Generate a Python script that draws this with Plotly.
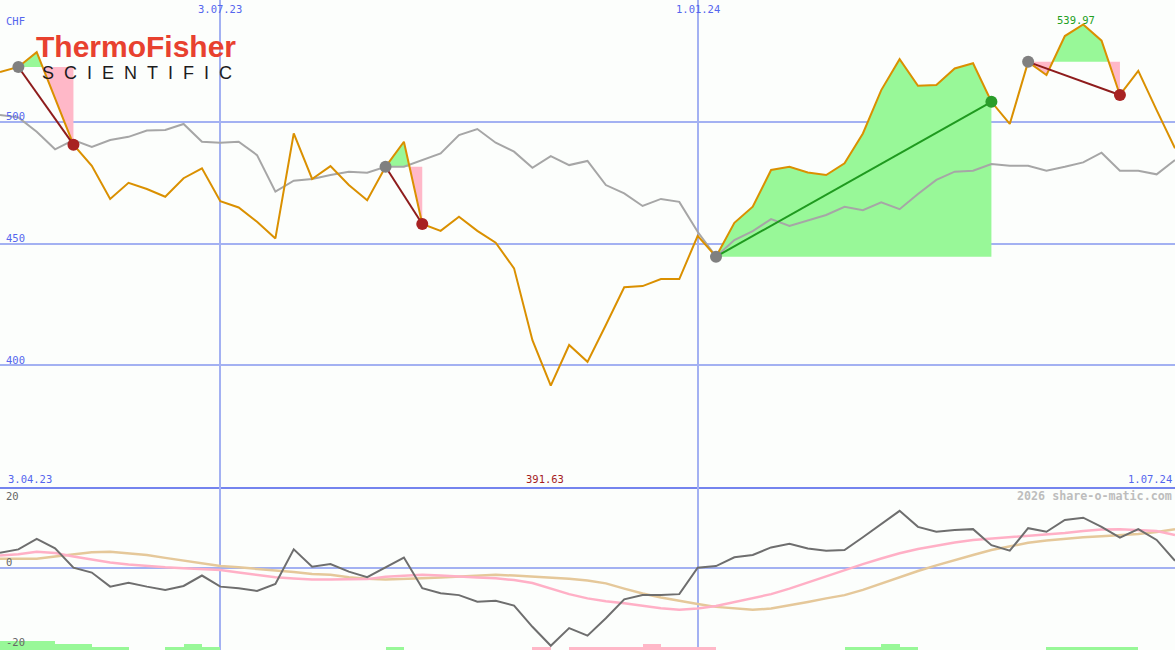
import plotly.graph_objects as go
import pandas as pd

# ---------------- data ----------------
dates = pd.date_range("2023-04-10", periods=65, freq="7D")

price = [520.4, 522.5, 528.6, 509.7, 490.6, 481.9, 468.3, 474.9, 472.4, 469.2,
         476.8, 480.9, 467.4, 464.8, 458.9, 452.1, 495.2, 476.5, 481.8, 474.0,
         467.8, 481.5, 491.8, 458.0, 455.2, 461.0, 455.2, 450.3, 439.8, 410.3,
         391.63, 408.3, 401.4, 416.5, 432.0, 432.5, 435.4, 435.4, 453.1, 444.6,
         458.5, 465.1, 480.2, 481.5, 479.2, 478.1, 482.9, 495.2, 513.0, 525.7,
         514.8, 515.1, 521.9, 524.0, 508.2, 499.1, 524.6, 519.2, 535.2, 539.97,
         533.3, 511.0, 520.9, 504.8, 489.1]

benchmark = [502.8, 501.8, 495.9, 488.7, 492.5, 489.7, 492.5, 493.8, 496.4, 496.6,
             499.1, 491.8, 491.4, 491.8, 486.3, 471.3, 475.8, 476.5, 478.1, 479.5,
             479.1, 481.5, 481.5, 484.3, 487.0, 494.5, 497.0, 491.4, 487.7, 481.1,
             485.9, 482.2, 483.9, 474.0, 470.6, 465.4, 468.3, 467.1, 454.8, 444.6,
             451.4, 455.1, 460.0, 457.2, 459.3, 461.7, 465.1, 463.7, 466.9, 464.1,
             470.3, 476.1, 479.5, 479.9, 482.6, 481.9, 481.9, 479.9, 481.5, 483.3,
             487.3, 479.9, 479.9, 478.4, 484.3]

momentum = [4.6, 5.6, 8.8, 5.9, 0.0, -1.5, -5.8, -4.6, -5.8, -6.8,
            -5.6, -2.4, -5.8, -6.3, -7.1, -5.0, 5.6, 0.3, 1.1, -1.2,
            -2.9, 0.1, 3.1, -6.3, -7.8, -8.4, -10.4, -10.1, -11.6, -18.1,
            -23.9, -18.5, -20.8, -15.5, -9.7, -8.4, -8.4, -8.1, 0.0, 0.5,
            3.2, 3.9, 6.2, 7.3, 5.9, 5.2, 5.4, 9.3, 13.4, 17.4,
            12.5, 11.0, 11.5, 11.8, 6.9, 5.2, 12.1, 11.0, 14.6, 15.3,
            12.5, 9.2, 11.8, 8.5, 2.1]

ma_fast = [3.7, 4.1, 4.9, 4.5, 3.4, 2.4, 1.6, 1.0, 0.5, 0.1,
           -0.2, -0.5, -0.7, -1.5, -2.2, -2.9, -3.3, -3.6, -3.6, -3.6,
           -3.5, -2.8, -2.4, -2.2, -2.4, -2.8, -3.0, -3.2, -3.8, -4.7,
           -6.5, -8.1, -9.4, -10.3, -10.9, -11.7, -12.4, -12.9, -12.5, -11.7,
           -10.5, -9.5, -8.1, -6.4, -4.5, -2.8, -0.9, 1.1, 2.8, 4.4,
           5.7, 6.8, 7.7, 8.5, 8.9, 9.3, 9.6, 10.0, 10.6, 11.2,
           11.7, 11.8, 11.6, 11.2, 10.0]

ma_slow = [2.7, 2.6, 2.7, 3.4, 4.0, 4.7, 4.9, 4.5, 3.9, 3.0,
           2.2, 1.3, 0.5, 0.1, -0.3, -0.7, -1.3, -1.9, -2.2, -2.9,
           -3.4, -3.6, -3.5, -3.2, -3.0, -2.8, -2.5, -2.2, -2.4, -2.7,
           -2.9, -3.4, -3.9, -4.8, -6.4, -7.9, -9.1, -10.2, -11.1, -12.0,
           -12.5, -12.9, -12.5, -11.6, -10.5, -9.4, -8.4, -6.8, -4.8, -2.8,
           -1.0, 0.7, 2.4, 3.9, 5.4, 6.6, 7.6, 8.3, 8.9, 9.3,
           9.6, 9.9, 10.3, 10.9, 11.8]

# signal strength bars at the bottom (+ green, - pink)
signal = [3, 3, 3, 2, 2, 1, 1, 0, 0, 1,
          2, 1, 0, 0, 0, 0, 0, 0, 0, 0,
          0, 1, 0, 0, 0, 0, 0, 0, 0, -1,
          0, -1, -1, -1, -1, -2, -1, -1, -1, 0,
          0, 0, 0, 0, 0, 0, 1, 1, 2, 1,
          0, 0, 0, 0, 0, 0, 0, 1, 1, 1,
          1, 1, 0, 0, 0]

trade_entry = [1, 21, 39, 56]
trade_exit = [4, 23, 54, 61]

y_ticks_main = [400, 450, 500]
x_ticks = ["2023-07-03", "2024-01-01"]
x_tick_text = ["3.07.23", "1.01.24"]
x_start_label = "3.04.23"
x_end_label = "1.07.24"
currency = "CHF"

# ---------------- layout constants ----------------
W, H = 1175, 650
SPLIT = 487  # pixel row of panel separator
dom_split = (H - SPLIT) / H
MAIN_RANGE = [350, 550]
LOW_RANGE = [-25.2, 24.7]
X_RANGE = ["2023-04-10", "2024-07-01"]

BG = "#fcfefc"
GRID = "#a3b1f2"
SEP = "#7484ee"
LBL = "#5566ee"
ORANGE = "#da9000"
GREY = "#a6a6a6"
FILL_G = "#98f898"
FILL_P = "#ffb8c8"

def ypx(p):
    return 1 - p / H

def xpx(p):
    return p / W

fig = go.Figure()

# ---------------- trade fills ----------------
def trade_groups(i0, i1):
    lvl = price[i0]
    pts = [(dates[i0], price[i0], True)]
    for k in range(i0, i1):
        a = price[k] - lvl
        b = price[k + 1] - lvl
        if a * b < 0:
            f = a / (a - b)
            pts.append((dates[k] + (dates[k + 1] - dates[k]) * f, lvl, True))
        pts.append((dates[k + 1], price[k + 1], price[k + 1] == lvl))
    groups, cur = [], [pts[0]]
    for p in pts[1:]:
        cur.append(p)
        if p[2]:
            groups.append(cur)
            cur = [p]
    if len(cur) > 1:
        groups.append(cur)
    return lvl, groups

for i0, i1 in zip(trade_entry, trade_exit):
    lvl, groups = trade_groups(i0, i1)
    for g in groups:
        s = sum(p[1] - lvl for p in g)
        if s == 0:
            continue
        xs = [p[0] for p in g] + [g[-1][0], g[0][0]]
        ys = [p[1] for p in g] + [lvl, lvl]
        fig.add_trace(go.Scatter(x=xs, y=ys, mode="lines", fill="toself",
                                 fillcolor=FILL_G if s > 0 else FILL_P,
                                 line=dict(width=0), hoverinfo="skip",
                                 xaxis="x", yaxis="y"))

# ---------------- main lines ----------------
fig.add_trace(go.Scatter(x=dates, y=benchmark, mode="lines",
                         line=dict(color=GREY, width=2), xaxis="x", yaxis="y"))
fig.add_trace(go.Scatter(x=dates, y=price, mode="lines",
                         line=dict(color=ORANGE, width=2), xaxis="x", yaxis="y"))

for i0, i1 in zip(trade_entry, trade_exit):
    win = price[i1] > price[i0]
    fig.add_trace(go.Scatter(x=[dates[i0], dates[i1]], y=[price[i0], price[i1]],
                             mode="lines",
                             line=dict(color="#1f9a1f" if win else "#8e1c1c", width=2),
                             xaxis="x", yaxis="y"))
    fig.add_trace(go.Scatter(x=[dates[i0]], y=[price[i0]], mode="markers",
                             marker=dict(color="#808080", size=12, line=dict(width=0)),
                             xaxis="x", yaxis="y"))
    fig.add_trace(go.Scatter(x=[dates[i1]], y=[price[i1]], mode="markers",
                             marker=dict(color="#2a9d2a" if win else "#a82222", size=12,
                                         line=dict(width=0)),
                             xaxis="x", yaxis="y"))

# ---------------- lower panel ----------------
px_per_unit = (H - SPLIT) / (LOW_RANGE[1] - LOW_RANGE[0])
bar_unit = 3.0 / px_per_unit
bar_x = [d + pd.Timedelta(days=3.5) for d in dates]
week_ms = 7 * 24 * 3600 * 1000
fig.add_trace(go.Bar(x=bar_x, y=[abs(s) * bar_unit for s in signal],
                     base=LOW_RANGE[0], width=week_ms,
                     marker=dict(color=[FILL_G if s > 0 else FILL_P for s in signal],
                                 line=dict(width=0)),
                     xaxis="x2", yaxis="y2"))
fig.add_trace(go.Scatter(x=dates, y=ma_slow, mode="lines",
                         line=dict(color="#e5c89a", width=2.5), xaxis="x2", yaxis="y2"))
fig.add_trace(go.Scatter(x=dates, y=ma_fast, mode="lines",
                         line=dict(color="#ffb0c6", width=2.5), xaxis="x2", yaxis="y2"))
fig.add_trace(go.Scatter(x=dates, y=momentum, mode="lines",
                         line=dict(color="#6e6e6e", width=2), xaxis="x2", yaxis="y2"))

# ---------------- annotations ----------------
mono = "DejaVu Sans Mono"
ann = []
def lab(text, x, y, color=LBL, xref="paper", yref="paper", xanchor="center",
        yanchor="middle", xshift=0, yshift=0, size=10.5, family=mono, bold=False):
    ann.append(dict(text=("<b>%s</b>" % text) if bold else text, x=x, y=y,
                    xref=xref, yref=yref, xanchor=xanchor, yanchor=yanchor,
                    xshift=xshift, yshift=yshift, showarrow=False,
                    font=dict(family=family, size=size, color=color), borderpad=0))

lab(currency, xpx(5), ypx(21), xanchor="left")
for v in y_ticks_main:
    lab(str(v), xpx(5), v, yref="y", xanchor="left", yshift=5.5)
for d, t in zip(x_ticks, x_tick_text):
    lab(t, d, ypx(9), xref="x")
lab(x_start_label, xpx(7), ypx(479), xanchor="left")
lab(x_end_label, xpx(1173), ypx(479), xanchor="right")
imin = price.index(min(price))
imax = price.index(max(price))
lab("%.2f" % price[imin], dates[imin], ypx(479), xref="x", xshift=-6, color="#a51c1c")
lab("%.2f" % price[imax], dates[imax], price[imax], xref="x", yref="y",
    xshift=-7, yshift=4, color="#22a022")
lab("2026 share-o-matic.com", xpx(1173), ypx(496), xanchor="right",
    color="#bdbdbd", size=11.7, bold=True)
lab("20", xpx(5), ypx(496), xanchor="left", color="#666666")
lab("0", xpx(5), 0, yref="y2", xanchor="left", yshift=6, color="#666666")
lab("-20", xpx(5), ypx(642), xanchor="left", color="#666666")

# logo
lab("ThermoFisher", xpx(35), ypx(47), xanchor="left", color="#e8412f",
    size=30, family="Liberation Sans", bold=True)
lab("&nbsp;&nbsp;".join("SCIENTIFIC"), xpx(41), ypx(72.5), xanchor="left",
    color="#1c1c1c", size=18, family="Liberation Sans")

axis_common = dict(showticklabels=False, ticks="", zeroline=False, fixedrange=True)

fig.update_layout(
    width=W, height=H,
    margin=dict(l=0, r=0, t=0, b=0),
    paper_bgcolor=BG, plot_bgcolor=BG,
    showlegend=False,
    bargap=0,
    annotations=ann,
    xaxis=dict(domain=[0, 1], anchor="y", range=X_RANGE, type="date",
               tickvals=x_ticks, showgrid=True, gridcolor=GRID, gridwidth=2,
               showline=True, linecolor=SEP, linewidth=2, **axis_common),
    yaxis=dict(domain=[dom_split, 1], anchor="x", range=MAIN_RANGE,
               tickvals=y_ticks_main, showgrid=True, gridcolor=GRID, gridwidth=2,
               showline=False, **axis_common),
    xaxis2=dict(domain=[0, 1], anchor="y2", range=X_RANGE, type="date",
                tickvals=x_ticks, showgrid=True, gridcolor=GRID, gridwidth=1.5,
                showline=False, **axis_common),
    yaxis2=dict(domain=[0, dom_split], anchor="x2", range=LOW_RANGE,
                tickvals=[0], showgrid=True, gridcolor=GRID, gridwidth=2,
                showline=False, **axis_common),
)

fig.write_html("out.html", config={"displayModeBar": False},
               post_script="document.body.style.margin='0';"
                           "document.body.style.overflow='hidden';")
